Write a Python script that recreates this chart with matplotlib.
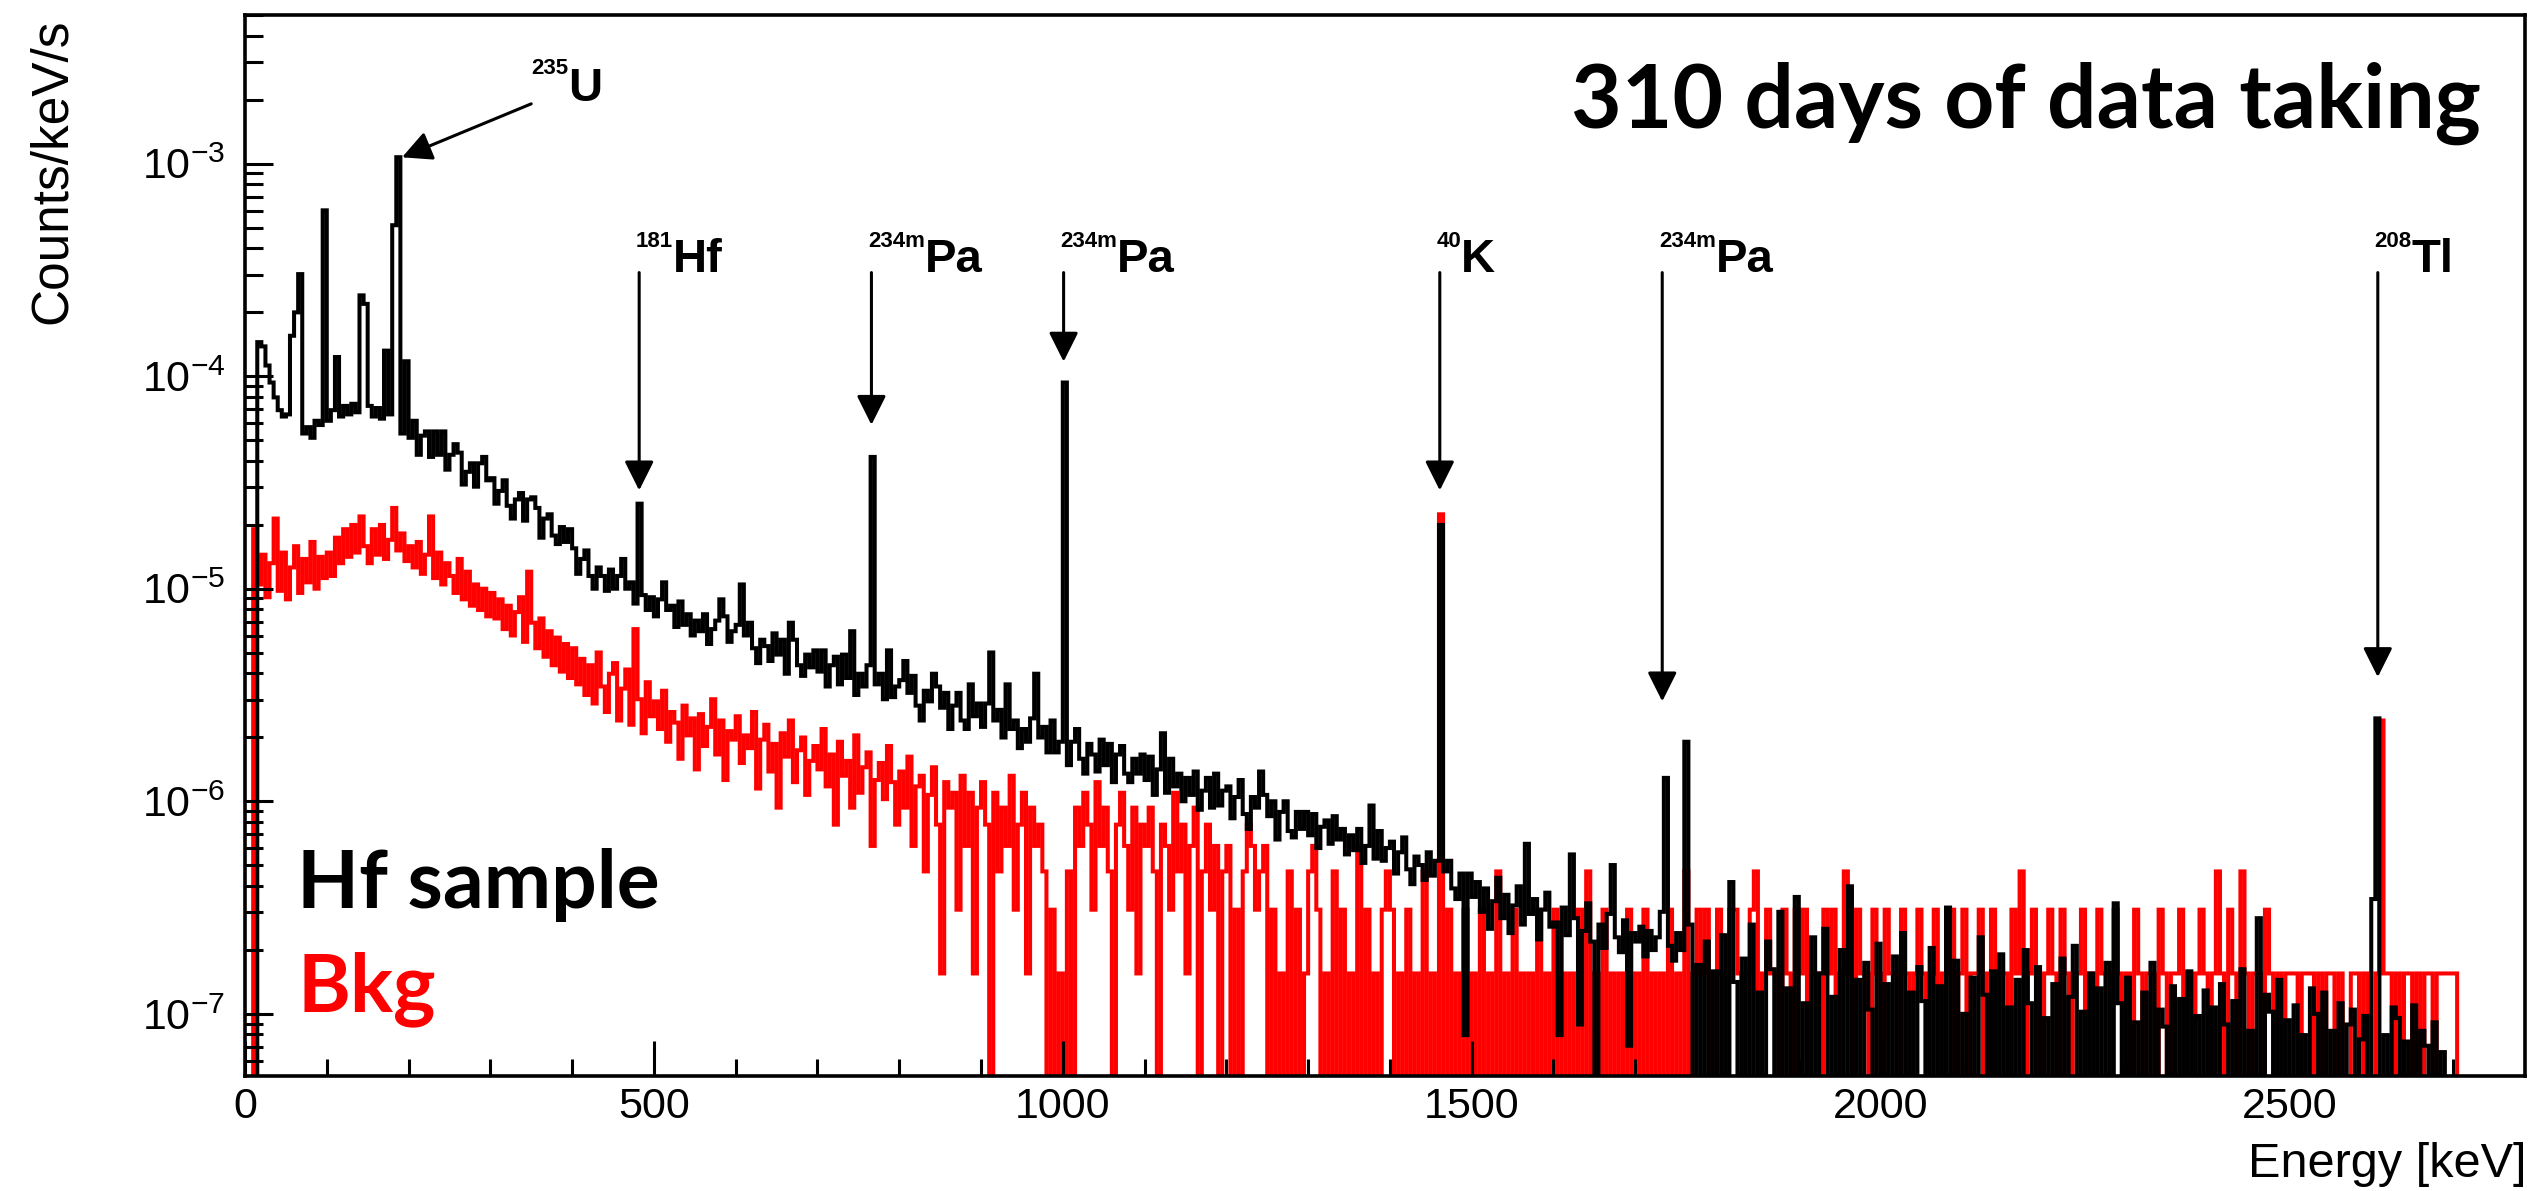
import numpy as np
import matplotlib
matplotlib.use("Agg")
import matplotlib.pyplot as plt
from matplotlib.ticker import MultipleLocator, LogLocator, NullFormatter

Z = -12.0      # empty bin -> drawn below the frame
BIN_KEV = 5

# log10(counts/keV/s) per 5 keV bin, Hf sample (black)
hf_log = (
    [Z, Z, Z, -3.84, -3.86, -3.95, -4.03, -4.10, -4.16, -4.19, -4.18, -3.81, -3.70, -3.52, -4.27, -4.24, -4.29, -4.21, -4.23, -3.22]
    + [-4.21, -4.16, -3.91, -4.19, -4.14, -4.18, -4.13, -4.17, -3.62, -3.66, -4.14, -4.19, -4.15, -4.20, -3.88, -4.18, -3.29, -2.97, -4.27, -3.93]
    + [-4.29, -4.21, -4.37, -4.28, -4.26, -4.38, -4.26, -4.37, -4.26, -4.44, -4.37, -4.32, -4.36, -4.51, -4.45, -4.41, -4.52, -4.41, -4.38, -4.49]
    + [-4.48, -4.60, -4.54, -4.49, -4.61, -4.67, -4.58, -4.55, -4.68, -4.58, -4.57, -4.62, -4.76, -4.67, -4.65, -4.75, -4.79, -4.71, -4.78, -4.72]
    + [-4.81, -4.93, -4.86, -4.82, -4.94, -5.00, -4.90, -4.94, -5.01, -4.91, -5.00, -4.94, -4.86, -5.00, -4.97, -5.07, -4.60, -5.03, -5.10, -5.04]
    + [-5.13, -5.05, -4.97, -5.10, -5.08, -5.18, -5.06, -5.17, -5.12, -5.22, -5.15, -5.20, -5.12, -5.26, -5.19, -5.15, -5.05, -5.13, -5.25, -5.20]
    + [-5.17, -4.98, -5.22, -5.16, -5.28, -5.35, -5.24, -5.27, -5.34, -5.21, -5.31, -5.24, -5.40, -5.16, -5.24, -5.36, -5.41, -5.31, -5.37, -5.29]
    + [-5.39, -5.29, -5.46, -5.36, -5.32, -5.45, -5.31, -5.42, -5.20, -5.50, -5.40, -5.46, -5.36, -4.38, -5.45, -5.40, -5.52, -5.29, -5.51, -5.46]
    + [-5.43, -5.34, -5.49, -5.41, -5.55, -5.62, -5.48, -5.53, -5.40, -5.46, -5.56, -5.49, -5.66, -5.55, -5.49, -5.62, -5.66, -5.45, -5.60, -5.54]
    + [-5.65, -5.54, -5.30, -5.62, -5.57, -5.70, -5.45, -5.66, -5.62, -5.75, -5.66, -5.72, -5.61, -5.40, -5.70, -5.65, -5.77, -5.62, -5.77, -5.72]
    + [-4.03, -5.83, -5.72, -5.66, -5.80, -5.87, -5.73, -5.78, -5.86, -5.71, -5.83, -5.73, -5.91, -5.78, -5.74, -5.87, -5.91, -5.80, -5.87, -5.78]
    + [-5.90, -5.79, -5.97, -5.85, -5.68, -5.96, -5.80, -5.93, -5.87, -6.00, -5.89, -5.97, -5.86, -6.04, -5.95, -5.89, -6.03, -5.87, -6.02, -5.95]
    + [-5.93, -6.08, -5.98, -5.90, -6.06, -6.13, -5.98, -6.03, -5.86, -5.97, -6.07, -6.00, -6.18, -6.05, -6.00, -6.14, -6.17, -6.05, -6.13, -6.05]
    + [-6.16, -6.06, -6.22, -6.12, -6.09, -6.20, -6.07, -6.18, -6.13, -6.25, -6.16, -6.23, -6.13, -6.29, -6.21, -6.02, -6.27, -6.14, -6.28, -6.22]
    + [-6.19, -6.34, -6.24, -6.17, -6.32, -6.39, -6.26, -6.30, -6.37, -6.24, -6.35, -6.28, -4.70, -6.33, -6.28, -6.41, -6.46, -6.34, -7.10, -6.34]
    + [-6.45, -6.38, -6.52, -6.41, -6.60, -6.47, -6.36, -6.55, -6.44, -6.62, -6.49, -6.40, -6.58, -6.20, -6.53, -6.46, -6.65, -6.51, -6.43, -6.59]
    + [-6.57, -7.10, -6.50, -6.63, -6.25, -6.55, -7.05, -6.61, -6.48, -6.66, -7.40, -6.58, -6.69, -6.53, -6.30, -6.64, -6.71, -6.56, -7.15, -6.62]
    + [-6.66, -6.59, -6.73, -6.61, -6.70, -6.64, -6.52, -5.89, -6.68, -6.75, -6.62, -6.70, -5.72, -6.58, Z, -6.77, Z, -6.66, Z, -6.80]
    + [Z, -6.63, Z, -6.38, -6.85, Z, -6.74, Z, -6.58, Z, -6.90, Z, -6.66, -6.79, Z, -6.52, Z, -6.88, Z, -6.45]
    + [Z, -6.95, Z, -6.64, Z, -6.81, -6.60, Z, -6.92, Z, -6.70, Z, -6.40, Z, -6.84, Z, -6.76, -6.98, Z, -6.67]
    + [Z, -6.86, Z, -6.73, Z, -6.62, Z, -6.90, Z, -6.78, -6.94, Z, -6.69, Z, -6.87, Z, -6.50, Z, -6.75, Z]
    + [-7.00, Z, -6.83, Z, -6.64, -6.91, Z, -6.80, Z, -6.72, Z, -6.97, Z, -6.84, Z, -6.70, -6.95, Z, -6.78, Z]
    + [-7.02, Z, -6.86, Z, -6.74, Z, -6.92, -6.68, Z, -6.99, Z, -6.81, Z, -6.88, Z, -6.76, Z, -6.48, -6.95, Z]
    + [-6.83, Z, -7.04, Z, -6.90, Z, -6.76, Z, -6.98, -7.06, Z, -6.87, Z, -6.93, Z, -6.80, Z, -7.01, Z, -6.89]
    + [Z, -6.97, Z, -6.86, -7.05, Z, -6.94, Z, -6.79, Z, -7.08, Z, -6.55, Z, -6.91, -6.99, Z, -6.84, Z, -7.03]
    + [Z, -6.96, Z, -7.10, Z, -6.88, -7.00, Z, -6.90, Z, -7.08, Z, -6.95, Z, -7.05, -6.98, Z, -7.12, -7.01, Z]
    + [-6.46, -5.61, Z, -7.10, Z, -6.97, -7.02, Z, -7.13, Z, -6.96, Z, -7.08, -7.15, Z, -7.04, Z, -7.18, Z, Z]
    + [Z, Z, Z, Z]
)

# log10(counts/keV/s) per 5 keV bin, background (red)
bkg_log = (
    [Z, Z, -4.72, -4.98, -4.84, -5.04, -4.88, -4.67, -5.01, -4.83, -5.05, -4.90, -4.80, -5.02, -4.86, -4.97, -4.78, -5.00, -4.85, -4.95]
    + [-4.83, -4.94, -4.76, -4.88, -4.72, -4.85, -4.70, -4.83, -4.66, -4.80, -4.88, -4.72, -4.84, -4.70, -4.86, -4.77, -4.62, -4.82, -4.74, -4.87]
    + [-4.80, -4.90, -4.78, -4.93, -4.84, -4.66, -4.95, -4.83, -4.98, -4.88, -4.94, -5.02, -4.86, -5.05, -4.92, -5.08, -4.98, -5.10, -5.00, -5.13]
    + [-5.02, -5.14, -5.05, -5.19, -5.08, -5.22, -5.11, -5.04, -5.25, -4.92, -5.16, -5.28, -5.14, -5.32, -5.20, -5.36, -5.23, -5.39, -5.26, -5.42]
    + [-5.28, -5.45, -5.33, -5.50, -5.36, -5.54, -5.30, -5.46, -5.58, -5.40, -5.35, -5.62, -5.47, -5.38, -5.64, -5.19, -5.52, -5.68, -5.44, -5.60]
    + [-5.53, -5.66, -5.48, -5.72, -5.58, -5.63, -5.80, -5.55, -5.69, -5.61, -5.85, -5.59, -5.74, -5.65, -5.52, -5.78, -5.62, -5.90, -5.67, -5.71]
    + [-5.60, -5.82, -5.69, -5.75, -5.58, -5.94, -5.71, -5.64, -5.86, -5.73, -6.03, -5.68, -5.79, -5.62, -5.91, -5.76, -5.70, -5.97, -5.81, -5.74]
    + [-5.85, -5.66, -5.93, -5.78, -6.11, -5.72, -5.88, -5.81, -6.03, -5.69, -5.96, -5.84, -5.77, -6.21, -5.90, -5.82, -5.99, -5.74, -5.91, -6.11]
    + [-5.86, -6.03, -5.79, -6.21, -5.93, -5.88, -6.33, -5.97, -5.84, -6.11, -6.81, -5.91, -6.03, -5.96, -6.51, -5.88, -6.21, -5.96, -6.81, -6.03]
    + [-5.91, -6.11, Z, -5.96, -6.33, -6.03, -6.21, -5.88, -6.51, -6.11, -5.96, -6.81, -6.03, -6.21, -6.11, -6.33, Z, -6.51, Z, -6.81]
    + [Z, -6.33, Z, -6.03, -6.21, -5.96, -6.11, -6.51, -5.91, -6.21, -6.03, -6.33, Z, -6.11, -5.96, -6.21, -6.51, -6.03, -6.81, -6.11]
    + [-6.21, -6.03, -6.33, Z, -6.11, -6.21, -6.51, -5.96, -6.33, -6.11, -6.81, -6.21, -6.03, Z, -6.33, -6.11, -6.51, -6.21, Z, -6.33]
    + [-6.21, Z, -6.51, Z, -6.33, -6.11, -6.21, -6.51, -6.33, -6.21, Z, -6.51, Z, -6.81, Z, -6.33, Z, -6.51, Z, -6.81]
    + [-6.33, -6.21, -6.51, Z, -6.81, Z, -6.33, Z, -6.51, Z, -6.81, Z, -6.21, Z, -6.51, Z, -6.81, Z, -6.51, -6.33]
    + [-6.51, Z, -6.81, Z, -6.51, Z, -6.81, Z, -6.33, Z, -6.81, Z, -4.65, Z, -6.51, Z, -6.81, Z, -6.51, Z]
    + [-6.81, Z, -6.51, Z, -6.81, Z, -6.33, Z, -6.81, Z, -6.51, Z, -6.81, Z, -6.81, Z, -6.51, Z, -6.81, Z]
    + [-6.51, Z, -6.81, Z, -6.81, Z, -6.51, Z, -6.33, Z, -6.81, Z, -6.51, Z, -6.81, Z, -6.81, Z, -6.51, Z]
    + [-6.81, Z, -6.51, Z, -6.81, Z, -6.81, Z, -6.51, Z, -6.81, Z, -6.33, Z, -6.81, -6.51, -6.81, -6.51, Z, -6.81]
    + [-6.51, -6.81, Z, -6.51, -6.51, -6.81, Z, -6.81, -6.51, -6.33, Z, -6.81, -6.51, -6.81, -6.81, Z, -6.51, -6.81, Z, -6.51]
    + [-6.81, -6.51, Z, -6.81, -6.81, Z, -6.51, -6.81, -6.51, Z, -6.81, -6.33, -6.81, Z, -6.51, -6.81, -6.81, Z, -6.51, -6.81]
    + [Z, -6.51, -6.81, -6.81, Z, -6.51, -6.81, Z, -6.81, -6.51, -6.81, Z, -6.81, -6.51, Z, -6.81, -6.81, -6.51, Z, -6.81]
    + [-6.51, Z, -6.81, -6.81, -6.51, Z, -6.81, -6.51, Z, -6.81, -6.81, Z, -6.51, -6.81, -6.33, Z, -6.81, -6.51, -6.81, Z]
    + [-6.81, -6.51, -6.81, Z, -6.51, -6.81, Z, -6.81, -6.81, -6.51, Z, -6.81, Z, -6.51, -6.81, -6.81, Z, -6.51, -6.81, Z]
    + [-6.81, Z, -6.51, -6.81, Z, -6.81, -6.81, Z, -6.51, -6.81, Z, -6.81, -6.81, -6.51, Z, -6.81, Z, -6.81, -6.51, -6.81]
    + [Z, -6.81, -6.33, -6.81, Z, -6.51, -6.81, Z, -6.33, -6.81, Z, -6.81, -6.81, Z, -6.51, -6.81, Z, -6.81, Z, -6.81]
    + [-6.81, -6.81, Z, -6.81, -6.81, -6.81, Z, -6.81, Z, -6.81, -6.81, Z, -6.81, Z, Z, -6.81, -6.81, Z, -6.81, Z]
    + [Z, -6.81, -5.62, -6.81, -6.81, Z, -6.81, Z, -6.81, -6.81, Z, -6.81, Z, -6.81, -6.81, Z, -6.81, -6.81, -6.81, -6.81]
    + [-6.81, Z, Z, Z]
)

# line markers
iso_mass = ["181", "234m", "234m", "40", "234m", "208"]
iso_elem = ["Hf", "Pa", "Pa", "K", "Pa", "Tl"]
iso_kev = [482, 766, 1001, 1461, 1733, 2608]
iso_tip = [2.9e-5, 5.9e-5, 1.17e-4, 2.9e-5, 2.95e-6, 3.84e-6]
ARROW_TOP = 3.07e-4
MASS_Y, ELEM_Y = 4.07e-4, 3.1e-4

u_tail = (350, 1.91e-3)
u_head = (192, 1.07e-3)
u_mass_y, u_elem_y = 2.65e-3, 1.96e-3

plt.rcParams['font.family'] = ['Liberation Sans', 'DejaVu Sans']
plt.rcParams['mathtext.fontset'] = 'custom'
plt.rcParams['mathtext.rm'] = 'Liberation Sans'
plt.rcParams['mathtext.it'] = 'Liberation Sans:italic'
plt.rcParams['mathtext.bf'] = 'Liberation Sans:bold'

W, H = 2531, 1191
fig = plt.figure(figsize=(W / 100, H / 100), dpi=100)
ax = fig.add_axes([245 / W, 1 - 1076 / H, (2525 - 245) / W, (1076 - 15) / H])

assert len(hf_log) == len(bkg_log)
edges = np.arange(len(hf_log) + 1) * BIN_KEV
ax.stairs(10.0 ** np.array(bkg_log), edges, color='#ff0000', lw=2.9, baseline=None)
ax.stairs(10.0 ** np.array(hf_log), edges, color='black', lw=2.9, baseline=None)

ax.set_yscale('log')
ax.set_xlim(0, 2788)
ax.set_ylim(5.1e-8, 5.0e-3)
ax.xaxis.set_major_locator(MultipleLocator(500))
ax.xaxis.set_minor_locator(MultipleLocator(100))
ax.yaxis.set_minor_locator(LogLocator(base=10, subs=np.arange(2, 10) * 1.0, numticks=30))
ax.yaxis.set_minor_formatter(NullFormatter())
ax.tick_params(which='both', direction='in', top=False, right=False, width=2.2,
               labelsize=31, colors='black')
ax.tick_params(axis='x', which='major', length=25, pad=8)
ax.tick_params(axis='x', which='minor', length=12)
ax.tick_params(axis='y', which='major', length=20, pad=14)
ax.tick_params(axis='y', which='minor', length=13)
for s in ax.spines.values():
    s.set_linewidth(2.6)

fig.text(52 / W, 1 - 18 / H, 'Counts/keV/s', rotation=90, ha='center', va='top', fontsize=37)
fig.text(2526 / W, 1 - 1177 / H, 'Energy [keV]', ha='right', va='baseline', fontsize=35)

arrow_kw = dict(arrowstyle='-|>,head_length=0.6,head_width=0.3', color='black',
                lw=2.2, shrinkA=0, shrinkB=0, mutation_scale=30)


def isotope(x, y_mass, y_elem, mass, elem):
    t = ax.text(x, y_mass, mass, fontsize=16, fontweight='bold', ha='left', va='baseline')
    ax.annotate(elem, xy=(1, y_elem), xycoords=(t, 'data'), fontsize=34,
                fontweight='bold', ha='left', va='baseline')


for m, el, e, tip in zip(iso_mass, iso_elem, iso_kev, iso_tip):
    ax.annotate('', xy=(e, tip), xytext=(e, ARROW_TOP), arrowprops=arrow_kw)
    isotope(e - 4, MASS_Y, ELEM_Y, m, el)

ax.annotate('', xy=u_head, xytext=u_tail, arrowprops=arrow_kw)
isotope(u_tail[0], u_mass_y, u_elem_y, '235', 'U')

big = dict(family=['Lato', 'DejaVu Sans'], fontweight='bold')
fig.text(297 / W, 1 - 908 / H, 'Hf sample', color='black', fontsize=58, va='baseline', **big)
fig.text(297 / W, 1 - 1011 / H, 'Bkg', color='#ff0000', fontsize=58, va='baseline', **big)
fig.text(2481 / W, 1 - 128 / H, '310 days of data taking', color='black', fontsize=63,
         ha='right', va='baseline', **big)

fig.savefig('out.png', dpi=100)
